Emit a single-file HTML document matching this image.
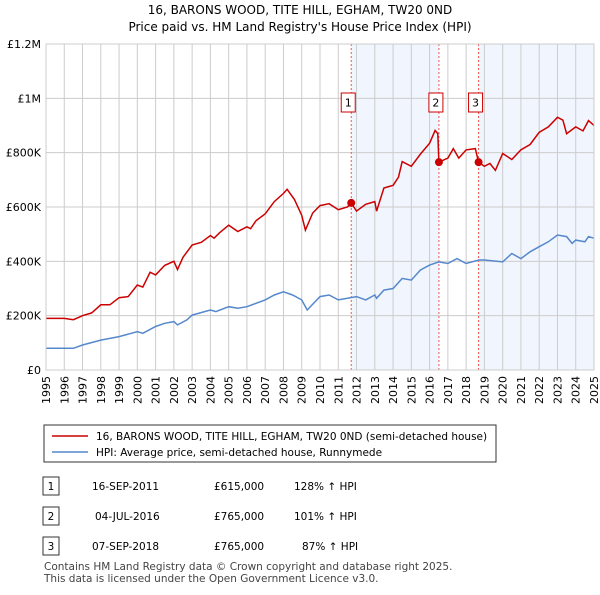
<!DOCTYPE html>
<html><head><meta charset="utf-8"><style>
body{margin:0;background:#fff;font-family:"Liberation Sans","DejaVu Sans",sans-serif;color:#222}
svg text{font-family:"DejaVu Sans","Liberation Sans",sans-serif}
</style></head><body>
<svg width="600" height="590" xmlns="http://www.w3.org/2000/svg">
<text x="300" y="14" text-anchor="middle" font-size="12">16, BARONS WOOD, TITE HILL, EGHAM, TW20 0ND</text>
<text x="300" y="31" text-anchor="middle" font-size="12">Price paid vs. HM Land Registry's House Price Index (HPI)</text>
<g id="plot"></g>
<rect x="44" y="425" width="452" height="37" fill="#fff" stroke="#333"/>
<line x1="52" y1="436" x2="88" y2="436" stroke="#cc0000" stroke-width="1.5"/>
<text x="96" y="440" font-size="10.5">16, BARONS WOOD, TITE HILL, EGHAM, TW20 0ND (semi-detached house)</text>
<line x1="52" y1="452" x2="88" y2="452" stroke="#5588cc" stroke-width="1.5"/>
<text x="96" y="456" font-size="10.5">HPI: Average price, semi-detached house, Runnymede</text>
<g font-size="10.5">
<rect x="43" y="477" width="16" height="18" fill="#fff" stroke="#333"/><text x="51" y="490" text-anchor="middle">1</text>
<text x="92" y="490">16-SEP-2011</text><text x="214" y="490">£615,000</text><text x="294" y="490">128% ↑ HPI</text>
<rect x="43" y="507" width="16" height="18" fill="#fff" stroke="#333"/><text x="51" y="520" text-anchor="middle">2</text>
<text x="95" y="520">04-JUL-2016</text><text x="214" y="520">£765,000</text><text x="294" y="520">101% ↑ HPI</text>
<rect x="43" y="537" width="16" height="18" fill="#fff" stroke="#333"/><text x="51" y="550" text-anchor="middle">3</text>
<text x="92" y="550">07-SEP-2018</text><text x="214" y="550">£765,000</text><text x="302" y="550">87% ↑ HPI</text>
</g>
<text x="44" y="570" font-size="10.5" fill="#444">Contains HM Land Registry data © Crown copyright and database right 2025.</text>
<text x="44" y="582" font-size="10.5" fill="#444">This data is licensed under the Open Government Licence v3.0.</text>
</svg>
<script>
const years=[1995,1996,1997,1998,1999,2000,2001,2002,2003,2004,2005,2006,2007,2008,2009,2010,2011,2012,2013,2014,2015,2016,2017,2018,2019,2020,2021,2022,2023,2024,2025];
const yTicks=[0,200000,400000,600000,800000,1000000,1200000];
const yTickLabels=["£0","£200K","£400K","£600K","£800K","£1M","£1.2M"];
const redX=[1995,1996,1996.5,1997,1997.5,1998,1998.5,1999,1999.5,2000,2000.3,2000.7,2001,2001.5,2002,2002.2,2002.5,2003,2003.5,2004,2004.2,2004.5,2005,2005.5,2006,2006.2,2006.5,2007,2007.5,2008,2008.2,2008.6,2009,2009.2,2009.6,2010,2010.5,2011,2011.5,2011.71,2012,2012.5,2013,2013.1,2013.5,2014,2014.3,2014.5,2015,2015.5,2016,2016.3,2016.45,2016.51,2017,2017.3,2017.6,2018,2018.5,2018.68,2019,2019.3,2019.6,2020,2020.5,2021,2021.5,2022,2022.5,2023,2023.3,2023.5,2024,2024.4,2024.7,2025];
const redY=[190000,190000,185000,200000,210000,240000,240000,266000,270000,313000,305000,360000,350000,385000,400000,370000,415000,460000,470000,495000,485000,505000,533000,510000,527000,520000,550000,575000,620000,650000,665000,628000,570000,515000,578000,605000,612000,590000,600000,615000,585000,610000,620000,585000,670000,680000,710000,767000,750000,795000,835000,882000,870000,765000,780000,815000,780000,810000,815000,765000,750000,760000,735000,797000,775000,810000,830000,875000,895000,930000,920000,870000,895000,880000,918000,900000];
const blueX=[1995,1996.5,1997,1998,1999,2000,2000.3,2001,2001.5,2002,2002.2,2002.7,2003,2004,2004.3,2005,2005.5,2006,2007,2007.5,2008,2008.5,2009,2009.3,2010,2010.5,2011,2012,2012.5,2013,2013.1,2013.5,2014,2014.5,2015,2015.5,2016,2016.5,2017,2017.5,2018,2018.7,2019,2020,2020.5,2021,2021.5,2022,2022.5,2023,2023.5,2023.8,2024,2024.5,2024.7,2025];
const blueY=[80000,80000,92000,110000,123000,141000,135000,160000,172000,178000,166000,184000,202000,221000,215000,233000,227000,233000,258000,276000,288000,276000,258000,221000,270000,276000,258000,270000,258000,276000,264000,294000,300000,337000,331000,368000,386000,398000,392000,410000,392000,405000,405000,398000,429000,410000,435000,454000,472000,497000,491000,466000,478000,472000,491000,485000];
const saleX=[2011.71,2016.51,2018.68];
const saleY=[615000,765000,765000];
const saleLabels=["1","2","3"];
const NS="http://www.w3.org/2000/svg";
const X0=46,X1=594,Y0=370,Y1=44;
const sx=v=>X0+(v-1995)/30*(X1-X0);
const sy=v=>Y0-v/1200000*(Y0-Y1);
const g=document.getElementById('plot');
function mk(t,a){const e=document.createElementNS(NS,t);for(const k in a)e.setAttribute(k,a[k]);g.appendChild(e);return e;}
let e;
e=mk('rect',{x:sx(saleX[0]),y:Y1,width:sx(saleX[1])-sx(saleX[0]),height:Y0-Y1,fill:'#eef2fc',opacity:0.8});


e=mk('rect',{x:sx(saleX[2]),y:Y1,width:X1-sx(saleX[2]),height:Y0-Y1,fill:'#eef2fc',opacity:0.8});


years.forEach(y=>{
e=mk('line',{x1:sx(y),x2:sx(y),y1:Y1,y2:Y0,stroke:'#ccc','stroke-width':1});


e=mk('text',{x:0,y:0,'font-size':11,'text-anchor':'end',transform:`translate(${sx(y)+4},${Y0+6}) rotate(-90)`});
e.textContent=y;


});
yTicks.forEach((v,i)=>{
e=mk('line',{x1:X0,x2:X1,y1:sy(v),y2:sy(v),stroke:'#ccc','stroke-width':1});


e=mk('text',{x:X0-5,y:sy(v)+4,'font-size':11,'text-anchor':'end'});
e.textContent=yTickLabels[i];


});
saleX.forEach((v,i)=>{
e=mk('line',{x1:sx(v),x2:sx(v),y1:Y1,y2:Y0,stroke:'#ee5555','stroke-width':1,'stroke-dasharray':'2,2'});


});
function path(xs,ys,c,n){
const d=xs.map((x,i)=>(i?'L':'M')+sx(x).toFixed(1)+','+sy(ys[i]).toFixed(1)).join('');
e=mk('path',{d,fill:'none',stroke:c,'stroke-width':1.5});


}
path(blueX,blueY,'#5588cc','hpi-line');
path(redX,redY,'#cc0000','property-price-line');
saleX.forEach((v,i)=>{
e=mk('circle',{cx:sx(v),cy:sy(saleY[i]),r:4,fill:'#cc0000'});


e=mk('rect',{x:sx(v)-10,y:93,width:14,height:19,fill:'#fff',stroke:'#cc0000'});


e=mk('text',{x:sx(v)-3,y:106.5,'font-size':11,'text-anchor':'middle'});
e.textContent=saleLabels[i];


});
e=mk('rect',{x:X0,y:Y1,width:X1-X0,height:Y0-Y1,fill:'none',stroke:'#ccc'});


</script>
</body></html>
